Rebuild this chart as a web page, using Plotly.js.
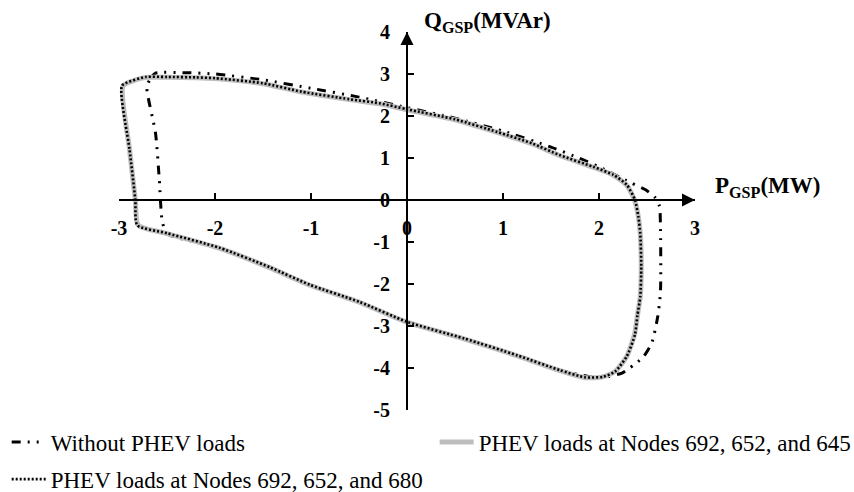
<!DOCTYPE html>
<html>
<head>
<meta charset="utf-8">
<script src="https://cdn.plot.ly/plotly-3.0.1.min.js"></script>
<style>
  html, body { margin: 0; padding: 0; background: #fff; }
  #chart { width: 854px; height: 492px; }
</style>
</head>
<body>
<div id="chart"></div>
<script>
// P-Q operating envelope at the grid supply point (GSP)

// Without PHEV loads (dash-dot loop)
const pWithout = [-2.71, -2.67, -2.62, -2.3, -2.0, -1.5, -1.0, -0.5, 0, 0.5, 1.0, 1.5, 1.8, 2.0, 2.27, 2.34, 2.48, 2.58, 2.63, 2.64, 2.64, 2.61, 2.55, 2.46, 2.32, 2.24, 2.1, 1.95, 1.59, 1.15, 0.6, 0, -0.49, -1.01, -1.43, -1.95, -2.5, -2.55, -2.58, -2.62, -2.71];
const qWithout = [2.69, 2.9, 3.02, 3.03, 3.0, 2.86, 2.66, 2.45, 2.2, 1.95, 1.64, 1.26, 0.99, 0.79, 0.48, 0.4, 0.25, 0.07, -0.15, -0.6, -2.2, -2.8, -3.4, -3.74, -4.0, -4.12, -4.2, -4.22, -4.05, -3.7, -3.3, -2.9, -2.43, -2.02, -1.6, -1.14, -0.8, -0.5, 0.48, 1.6, 2.69];

// PHEV loads at Nodes 692, 652 and 645 (solid grey loop)
const p645 = [-2.96, -2.85, -2.72, -2.5, -2.2, -2.0, -1.5, -1.1, -0.6, -0.28, 0, 0.5, 0.94, 1.3, 1.59, 1.94, 2.15, 2.29, 2.37, 2.41, 2.43, 2.44, 2.43, 2.4, 2.37, 2.29, 2.17, 2.04, 1.85, 1.59, 1.15, 0.6, 0, -0.49, -1.01, -1.43, -1.95, -2.5, -2.8, -2.83, -2.89, -2.96];
const q645 = [2.71, 2.84, 2.92, 2.92, 2.91, 2.89, 2.77, 2.57, 2.39, 2.29, 2.15, 1.91, 1.61, 1.34, 1.06, 0.78, 0.59, 0.35, 0, -0.4, -0.8, -1.6, -2.3, -2.75, -3.2, -3.72, -4.08, -4.21, -4.23, -4.06, -3.71, -3.31, -2.91, -2.44, -2.03, -1.61, -1.15, -0.8, -0.6, 0, 1.2, 2.71];

// PHEV loads at Nodes 692, 652 and 680 (dotted loop)
const p680 = [-2.97, -2.85, -2.72, -2.5, -2.2, -2.0, -1.5, -1.1, -0.6, -0.28, 0, 0.5, 0.94, 1.3, 1.59, 1.94, 2.15, 2.29, 2.375, 2.41, 2.43, 2.44, 2.43, 2.4, 2.375, 2.29, 2.17, 2.04, 1.85, 1.59, 1.15, 0.6, 0, -0.49, -1.01, -1.43, -1.95, -2.5, -2.81, -2.83, -2.89, -2.97];
const q680 = [2.72, 2.85, 2.93, 2.93, 2.92, 2.9, 2.78, 2.58, 2.4, 2.3, 2.16, 1.92, 1.62, 1.35, 1.07, 0.79, 0.6, 0.36, 0, -0.4, -0.8, -1.6, -2.3, -2.75, -3.2, -3.72, -4.08, -4.21, -4.22, -4.05, -3.7, -3.3, -2.9, -2.43, -2.02, -1.6, -1.14, -0.79, -0.6, 0, 1.2, 2.72];

const seriesNames = [
  'Without PHEV loads',
  'PHEV loads at Nodes 692, 652, and 645',
  'PHEV loads at Nodes 692, 652, and 680'
];

// axis ticks
const xTickVals = [-3, -2, -1, 0, 1, 2, 3];
const xTickText = ['-3', '-2', '-1', '0', '1', '2', '3'];
const yTickVals = [-5, -4, -3, -2, -1, 0, 1, 2, 3, 4];
const yTickText = ['-5', '-4', '-3', '-2', '-1', '0', '1', '2', '3', '4'];

const serif = 'Liberation Serif, Times New Roman, serif';
const xRange = [-3, 3];
const yRange = [-5, 4];

const traces = [
  {
    x: pWithout, y: qWithout, name: seriesNames[0], type: 'scatter', mode: 'lines',
    line: { color: '#000', width: 3, dash: '9px,7px,2px,7px,2px,7px', shape: 'spline', smoothing: 0.6 },
    legend: 'legend'
  },
  {
    x: p645, y: q645, name: seriesNames[1], type: 'scatter', mode: 'lines',
    line: { color: '#bdbdbd', width: 5, shape: 'spline', smoothing: 0.6 },
    legend: 'legend2'
  },
  {
    x: p680, y: q680, name: seriesNames[2], type: 'scatter', mode: 'lines',
    line: { color: '#000', width: 2.6, dash: '2px,2px', shape: 'spline', smoothing: 0.6 },
    legend: 'legend3'
  }
];

const legendBase = {
  orientation: 'h', xanchor: 'left', yanchor: 'top',
  bgcolor: 'rgba(0,0,0,0)', borderwidth: 0, itemwidth: 34,
  font: { family: serif, size: 23, color: '#000' }
};

const layout = {
  width: 854, height: 492,
  margin: { l: 119, r: 159, t: 32, b: 82, autoexpand: false },
  paper_bgcolor: '#fff', plot_bgcolor: '#fff',
  showlegend: true,
  xaxis: {
    range: xRange, anchor: 'free',
    position: (0 - yRange[0]) / (yRange[1] - yRange[0]),
    showgrid: false, zeroline: false, showline: true, linecolor: '#000', linewidth: 2,
    ticks: 'inside', ticklen: 6, tickwidth: 2, tickcolor: '#000',
    tickmode: 'array', tickvals: xTickVals, ticktext: xTickText,
    ticklabelstandoff: 10,
    tickfont: { family: serif, size: 20, color: '#000', weight: 'bold' }
  },
  yaxis: {
    range: yRange, anchor: 'free',
    position: (0 - xRange[0]) / (xRange[1] - xRange[0]),
    showgrid: false, zeroline: false, showline: true, linecolor: '#000', linewidth: 2,
    ticks: 'inside', ticklen: 6, tickwidth: 2, tickcolor: '#000',
    tickmode: 'array', tickvals: yTickVals, ticktext: yTickText,
    ticklabelstandoff: 12,
    tickfont: { family: serif, size: 20, color: '#000', weight: 'bold' }
  },
  legend: Object.assign({}, legendBase, { x: -0.195, y: -0.028 }),
  legend2: Object.assign({}, legendBase, { x: 0.548, y: -0.028 }),
  legend3: Object.assign({}, legendBase, { x: -0.195, y: -0.126 }),
  annotations: [
    // arrow heads at the ends of both axes
    { x: 3, y: 0, ax: 2.85, ay: 0, xref: 'x', yref: 'y', axref: 'x', ayref: 'y',
      showarrow: true, arrowhead: 2, arrowsize: 1.3, arrowwidth: 2, arrowcolor: '#000', text: '' },
    { x: 0, y: 4, ax: 0, ay: 3.7, xref: 'x', yref: 'y', axref: 'x', ayref: 'y',
      showarrow: true, arrowhead: 2, arrowsize: 1.3, arrowwidth: 2, arrowcolor: '#000', text: '' },
    // axis titles
    { x: 0.526, y: 1.026, xref: 'paper', yref: 'paper', xanchor: 'left', yanchor: 'middle', showarrow: false,
      text: '<b>Q<sub>GSP</sub>(MVAr)</b>', font: { family: serif, size: 23, color: '#000' } },
    { x: 1.031, y: 0.59, xref: 'paper', yref: 'paper', xanchor: 'left', yanchor: 'middle', showarrow: false,
      text: '<b>P<sub>GSP</sub>(MW)</b>', font: { family: serif, size: 23, color: '#000' } }
  ]
};

Plotly.newPlot('chart', traces, layout, { displayModeBar: false, staticPlot: true });
</script>
</body>
</html>
